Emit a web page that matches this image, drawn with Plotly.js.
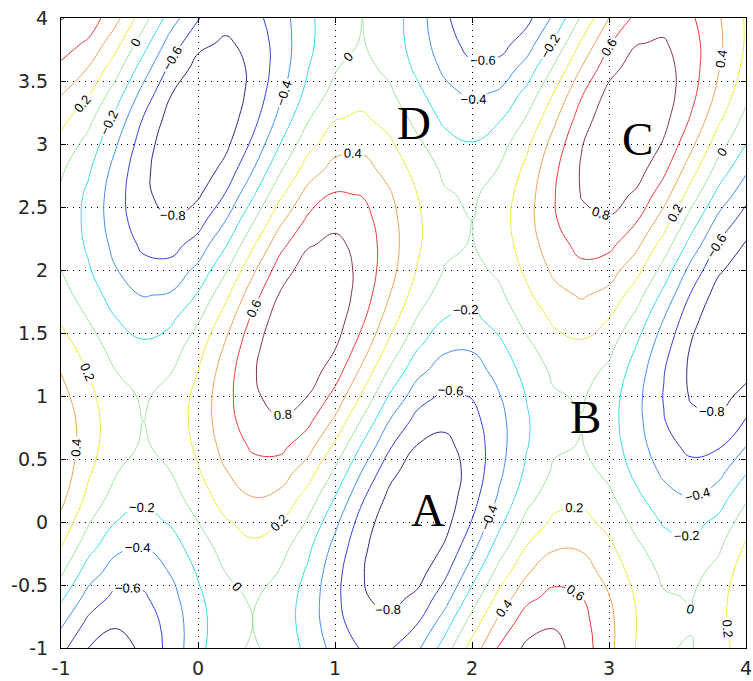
<!DOCTYPE html>
<html><head><meta charset="utf-8">
<script src="https://cdn.plot.ly/plotly-3.0.1.min.js"></script>
<style>html,body{margin:0;padding:0;background:#fff}#chart{width:753px;height:681px}</style>
</head><body>
<div id="chart"></div>
<script>
// grid coordinates
const xs = [-1, -0.8, -0.6, -0.4, -0.2, 0, 0.2, 0.4, 0.6, 0.8, 1, 1.2, 1.4, 1.6, 1.8, 2, 2.2, 2.4, 2.6, 2.8, 3, 3.2, 3.4, 3.6, 3.8, 4];
const ys = [-1, -0.8, -0.6, -0.4, -0.2, 0, 0.2, 0.4, 0.6, 0.8, 1, 1.2, 1.4, 1.6, 1.8, 2, 2.2, 2.4, 2.6, 2.8, 3, 3.2, 3.4, 3.6, 3.8, 4];

// surface values in hundredths, one row per y (bottom to top), columns follow xs
const zYm10 = [-54,-80,-87,-77,-53,-26,-5,2,-6,-25,-47,-62,-62,-44,-11,28,63,84,86,71,45,19,1,-1,11,32];
const zYm08 = [-36,-65,-78,-72,-52,-27,-7,0,-8,-29,-53,-72,-75,-61,-30,9,46,71,78,67,45,20,4,1,13,36];
const zYm06 = [-16,-48,-65,-63,-47,-24,-5,2,-7,-28,-55,-78,-86,-76,-49,-11,27,55,66,60,41,18,2,-1,12,36];
const zYm04 = [3,-30,-50,-52,-39,-18,0,7,-1,-23,-53,-79,-93,-88,-65,-30,8,38,52,49,33,12,-4,-6,6,32];
const zYm02 = [20,-13,-35,-40,-29,-10,8,16,8,-15,-46,-76,-95,-96,-78,-46,-10,21,38,38,24,4,-12,-15,-3,23];
const zY00 = [35,2,-20,-27,-18,0,18,27,20,-2,-35,-69,-93,-100,-87,-59,-25,6,24,26,14,-6,-22,-27,-15,11];
const zY02 = [46,15,-8,-16,-8,10,29,40,35,13,-20,-57,-85,-98,-91,-68,-37,-7,12,15,4,-16,-33,-40,-30,-4];
const zY04 = [53,23,1,-7,0,18,39,52,50,30,-3,-41,-74,-92,-91,-73,-44,-16,3,7,-5,-25,-44,-53,-46,-22];
const zY06 = [55,28,7,-2,5,24,47,63,65,48,16,-23,-58,-81,-85,-72,-47,-21,-3,1,-10,-31,-53,-65,-62,-40];
const zY08 = [53,29,8,0,7,27,52,72,78,65,36,-3,-41,-67,-76,-67,-46,-22,-4,-1,-12,-34,-59,-75,-76,-58];
const zY10 = [47,25,6,-2,5,26,53,77,87,80,54,17,-22,-51,-64,-59,-41,-19,-2,2,-10,-34,-61,-82,-87,-74];
const zY12 = [39,19,0,-8,-1,20,50,78,93,91,70,35,-3,-34,-50,-49,-33,-13,4,8,-4,-29,-59,-84,-95,-86];
const zY14 = [29,10,-9,-17,-11,11,42,74,94,98,82,51,15,-17,-35,-37,-24,-4,12,17,6,-20,-52,-81,-97,-95];
const zY16 = [18,0,-19,-29,-23,-2,30,65,91,100,90,63,29,-2,-21,-25,-13,6,23,29,19,-7,-41,-74,-95,-99];
const zY18 = [8,-10,-29,-41,-38,-18,15,52,82,97,93,71,40,10,-10,-14,-4,16,34,42,34,9,-26,-62,-89,-98];
const zY20 = [0,-18,-39,-53,-53,-35,-3,36,70,90,91,74,47,19,-1,-6,4,24,44,55,49,27,-8,-47,-77,-92];
const zY22 = [-5,-23,-46,-64,-67,-52,-22,17,54,78,85,73,49,23,4,-1,9,30,52,66,65,45,11,-28,-62,-82];
const zY24 = [-6,-25,-51,-72,-79,-69,-41,-3,35,63,74,68,47,23,5,0,11,33,58,76,78,62,31,-9,-45,-69];
const zY26 = [-3,-24,-51,-76,-88,-83,-59,-23,16,47,62,59,42,20,2,-3,8,31,59,81,89,77,49,11,-26,-53];
const zY28 = [3,-17,-47,-75,-93,-93,-74,-41,-3,29,47,47,33,13,-4,-9,1,25,56,82,95,89,65,29,-8,-36];
const zY30 = [14,-7,-38,-70,-93,-99,-85,-56,-20,13,32,35,23,4,-13,-19,-9,16,48,79,97,97,78,45,9,-20];
const zY32 = [26,6,-26,-61,-88,-100,-92,-67,-34,-2,19,23,13,-6,-24,-31,-22,2,36,70,94,99,86,58,24,-6];
const zY34 = [41,22,-10,-47,-79,-96,-94,-74,-44,-14,7,13,3,-15,-34,-44,-37,-14,21,58,86,97,90,66,35,6];
const zY36 = [56,39,8,-30,-65,-87,-91,-76,-50,-21,-1,5,-4,-24,-44,-56,-53,-32,3,41,73,90,88,69,41,14];
const zY38 = [69,57,27,-11,-49,-75,-83,-74,-51,-25,-5,1,-9,-29,-52,-67,-68,-50,-17,23,58,79,82,68,44,18];
const zY40 = [81,72,46,9,-30,-59,-73,-67,-49,-25,-6,0,-9,-31,-56,-76,-80,-66,-36,3,40,65,73,63,42,18];

// tick labels
const xTickVals = [-1, 0, 1, 2, 3, 4];
const xTickText = ['-1', '0', '1', '2', '3', '4'];
const yTickVals = [-1, -0.5, 0, 0.5, 1, 1.5, 2, 2.5, 3, 3.5, 4];
const yTickText = ['-1', '-0.5', '0', '0.5', '1', '1.5', '2', '2.5', '3', '3.5', '4'];

// point labels
const ptText = ['A', 'B', 'C', 'D'];
const ptX = [1.68, 2.83, 3.21, 1.58];
const ptY = [0.094, 0.83, 3.04, 3.164];

const rows = [zYm10, zYm08, zYm06, zYm04, zYm02, zY00, zY02, zY04, zY06, zY08, zY10, zY12, zY14,
              zY16, zY18, zY20, zY22, zY24, zY26, zY28, zY30, zY32, zY34, zY36, zY38, zY40];
const z = rows.map(r => r.map(v => v / 100));

const trace = {
  type: 'contour',
  x: xs, y: ys, z: z,
  autocontour: false,
  zmin: -0.8, zmax: 0.8,
  contours: {
    start: -0.8, end: 0.8, size: 0.2,
    coloring: 'lines',
    showlabels: true,
    labelfont: {family: 'Liberation Sans, Arial, sans-serif', size: 13, color: '#000'}
  },
  colorscale: [
    [0, '#2a2a86'], [0.125, '#2f3fd6'], [0.25, '#3f8cf0'], [0.375, '#3ad8ea'],
    [0.5, '#a2e2a2'], [0.625, '#ecea3a'], [0.75, '#f0a252'], [0.875, '#e63a3a'], [1, '#8a3244']
  ],
  line: {width: 1, smoothing: 1.3},
  showscale: false,
  hoverinfo: 'skip'
};

const axisCommon = {
  range: [-1, 4],
  showline: true, linecolor: '#000', linewidth: 1, mirror: 'allticks',
  ticks: 'inside', ticklen: 5, tickcolor: '#000', tickwidth: 1,
  showgrid: true, gridcolor: '#000', gridwidth: 1, griddash: '1px,5px',
  zeroline: false,
  tickfont: {family: 'DejaVu Sans, sans-serif', size: 19, color: '#262626'}
};

const layout = {
  width: 753, height: 681,
  margin: {l: 61, r: 7, t: 18, b: 33},
  paper_bgcolor: '#fff', plot_bgcolor: '#fff',
  showlegend: false,
  xaxis: Object.assign({}, axisCommon, {tickmode: 'array', tickvals: xTickVals, ticktext: xTickText, ticklabelstandoff: 3}),
  yaxis: Object.assign({}, axisCommon, {tickmode: 'array', tickvals: yTickVals, ticktext: yTickText, ticklabelstandoff: 8}),
  annotations: ptText.map((t, i) => ({
    x: ptX[i], y: ptY[i], xref: 'x', yref: 'y', text: t, showarrow: false,
    font: {family: 'Liberation Serif, Times New Roman, serif', size: 47, color: '#000'}
  }))
};

Plotly.newPlot('chart', [trace], layout, {displayModeBar: false, staticPlot: true});
</script>
</body></html>
